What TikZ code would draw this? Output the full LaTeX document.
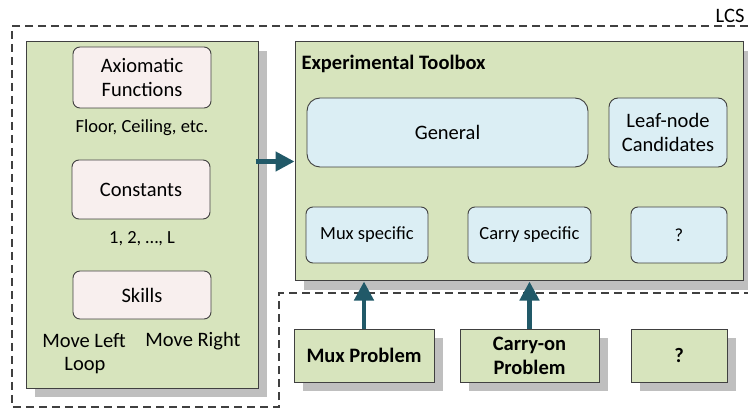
\documentclass[tikz,border=0pt]{standalone}
\usepackage{fontspec}
\setmainfont{Carlito}
\usetikzlibrary{shadows,arrows.meta}

\definecolor{panelgreen}{HTML}{D7E4BD}
\definecolor{skillpink}{HTML}{F8EFEE}
\definecolor{toolblue}{HTML}{DBEEF4}
\definecolor{edgegray}{HTML}{404040}
\definecolor{arrowteal}{HTML}{215968}

\tikzset{
    panel/.style={draw=edgegray, fill=panelgreen, line width=1pt,
        drop shadow={shadow xshift=9pt, shadow yshift=-9pt, fill=gray!50, opacity=1}},
    pinkbox/.style={draw=edgegray, fill=skillpink, line width=0.9pt, rounded corners=7pt,
        minimum width=138pt, align=center},
    bluebox/.style={draw=edgegray, fill=toolblue, line width=0.9pt, rounded corners=7pt, align=center},
    flow/.style={arrowteal, line width=4.5pt, -{Triangle[length=19pt,width=19pt]}},
    big/.style={font=\fontsize{20.5}{24}\selectfont},
    small/.style={font=\fontsize{18.5}{24}\selectfont},
}

\begin{document}
\begin{tikzpicture}[x=1pt, y=-1pt]
    \useasboundingbox (0,0) rectangle (748,409);

    % LCS region
    \draw[edgegray, line width=1.3pt, dash pattern=on 8pt off 5pt]
        (748,26) -- (12,26) -- (12,407) -- (279,407) -- (279,293) -- (748,293);
    \node[big, anchor=east] (lcs) at (748,16) {LCS};

    % left panel
    \node[panel, minimum width=232pt, minimum height=346pt] (left) at (142,215) {};
    \node[pinkbox, big, minimum height=61pt] (axiom) at (142,77.5) {Axiomatic\\Functions};
    \node[small] (floor) at (142,128) {Floor, Ceiling, etc.};
    \node[pinkbox, big, minimum height=59pt] (const) at (141,189.5) {Constants};
    \node[small] (nums) at (142,239) {1, 2, …, L};
    \node[pinkbox, big, minimum height=48pt] (skills) at (142,295) {Skills};
    \node[big] (moveleft) at (84,341) {Move Left};
    \node[big] (moveright) at (193,341) {Move Right};
    \node[big] (loop) at (85,366) {Loop};

    % toolbox
    \node[panel, minimum width=448pt, minimum height=239pt] (toolbox) at (519,161.5) {};
    \node[big, font=\fontsize{20.5}{24}\selectfont\bfseries, anchor=west] (title) at (298,64) {Experimental Toolbox};
    \node[bluebox, big, rounded corners=13pt, minimum width=281pt, minimum height=69pt] (general) at (447.5,132.5) {General};
    \node[bluebox, big, rounded corners=9pt, minimum width=118pt, minimum height=69pt] (leaf) at (668,132.5) {Leaf-node\\Candidates};
    \node[bluebox, small, minimum width=122pt, minimum height=56pt] (muxspec) at (367,235) {Mux specific};
    \node[bluebox, small, minimum width=123pt, minimum height=56pt] (carryspec) at (529.5,235) {Carry specific};
    \node[bluebox, small, minimum width=96pt, minimum height=56pt] (otherspec) at (679,235) {?};

    % problems
    \node[panel, big, font=\fontsize{20.5}{24}\selectfont\bfseries, align=center, minimum width=140pt, minimum height=53pt] (muxprob) at (364,355.5) {Mux Problem};
    \node[panel, big, font=\fontsize{20.5}{24}\selectfont\bfseries, align=center, minimum width=139pt, minimum height=53pt] (carryprob) at (529.5,355.5) {Carry-on\\Problem};
    \node[panel, big, font=\fontsize{20.5}{24}\selectfont\bfseries, align=center, minimum width=96pt, minimum height=53pt] (otherprob) at (679,355.5) {?};

    % arrows
    \draw[flow] ([xshift=-3pt]left.east |- toolbox.west) -- (toolbox.west);
    \draw[flow] (muxprob.north) -- (muxprob.north |- toolbox.south);
    \draw[flow] (carryprob.north) -- (carryprob.north |- toolbox.south);
\end{tikzpicture}
\end{document}
